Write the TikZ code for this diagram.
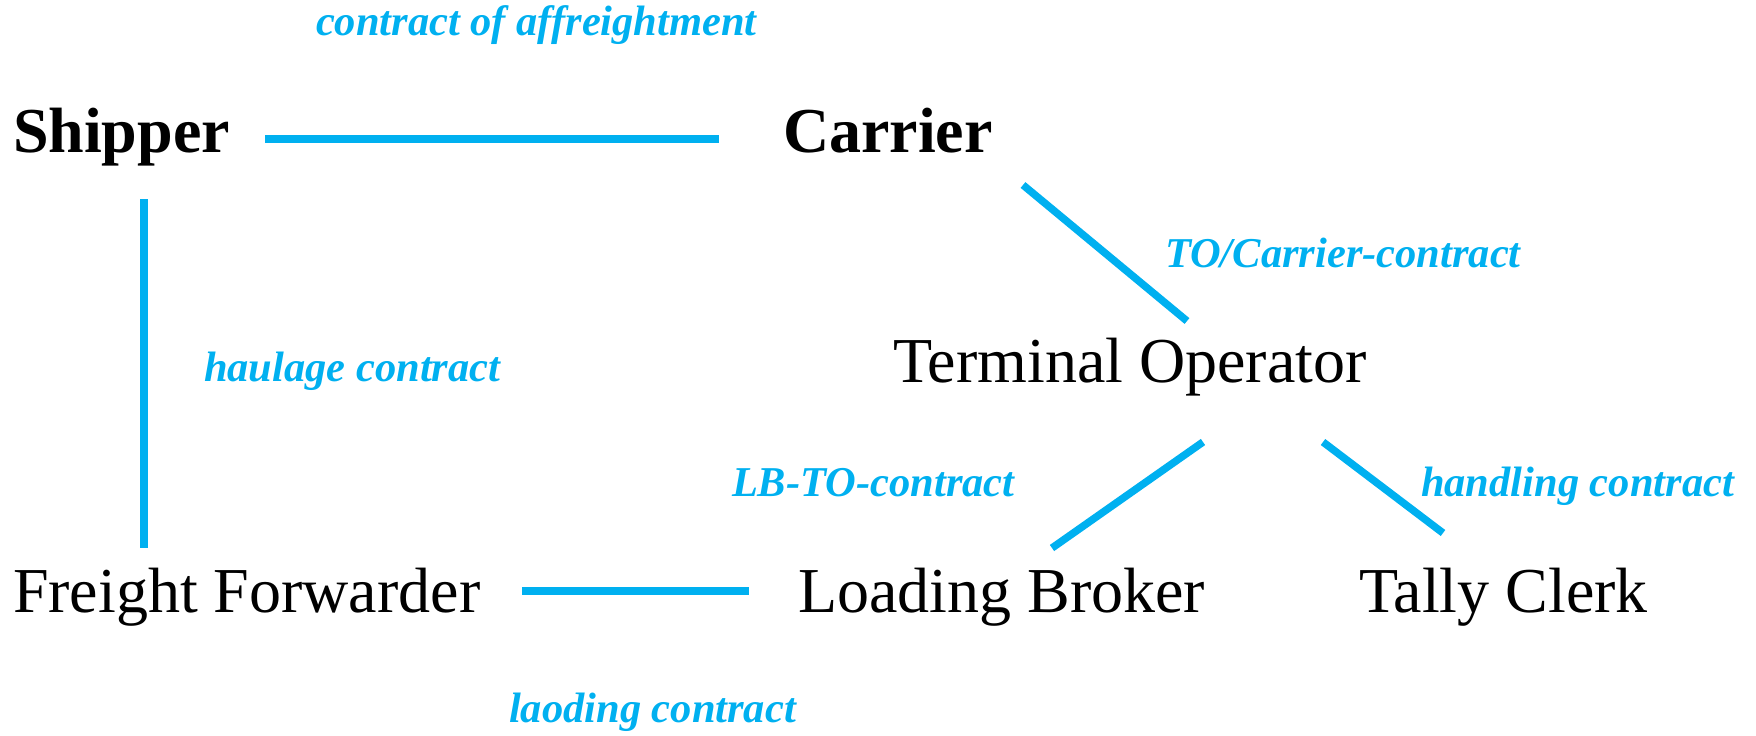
\documentclass[tikz,border=0pt]{standalone}
\usepackage{fontspec}
\setmainfont{Liberation Serif}
\definecolor{contractblue}{RGB}{0,176,240}
\tikzset{
  party/.style={anchor=base west, inner sep=0pt, outer sep=0pt, font=\fontsize{32}{38}\selectfont},
  lead/.style={anchor=base west, inner sep=0pt, outer sep=0pt, font=\fontsize{32}{38}\selectfont\bfseries},
  deal/.style={anchor=base west, inner sep=0pt, outer sep=0pt, text=contractblue,
    font=\fontsize{21.25}{25}\selectfont\bfseries\itshape},
  link/.style={draw=contractblue, line width=3.75pt, line cap=butt}
}
\begin{document}
\begin{tikzpicture}[x=0.5pt,y=-0.5pt]
  \useasboundingbox (0,0) rectangle (1756,735);

  % parties
  \node[lead]  (shipper)   at (13,152)   {Shipper};
  \node[lead]  (carrier)   at (783,152)  {Carrier};
  \node[party] (terminal)  at (893,382)  {Terminal Operator};
  \node[party] (forwarder) at (13,612)   {Freight Forwarder};
  \node[party] (broker)    at (798,612)  {Loading Broker};
  \node[party] (clerk)     at (1359,612) {Tally Clerk};

  % contract labels
  \node[deal] (affr)     at (316,35)   {contract of affreightment};
  \node[deal] (tocarr)   at (1165,267) {TO/Carrier-contract};
  \node[deal] (haulage)  at (204,381)  {haulage contract};
  \node[deal] (lbto)     at (732,496)  {LB-TO-contract};
  \node[deal] (handling) at (1421,496) {handling contract};
  \node[deal] (laoding)  at (509,722)  {laoding contract};

  % connector end points
  \coordinate (sc1) at (265,139);  \coordinate (sc2) at (719,139);
  \coordinate (sf1) at (144,199);  \coordinate (sf2) at (144,548);
  \coordinate (ct1) at (1023,185); \coordinate (ct2) at (1187,321);
  \coordinate (tb1) at (1203,442); \coordinate (tb2) at (1052,548);
  \coordinate (tt1) at (1323,442); \coordinate (tt2) at (1443,533);
  \coordinate (fb1) at (522,591);  \coordinate (fb2) at (749,591);

  % contracts between parties
  \draw[link] (sc1) -- (sc2);
  \draw[link] (sf1) -- (sf2);
  \draw[link] (ct1) -- (ct2);
  \draw[link] (tb1) -- (tb2);
  \draw[link] (tt1) -- (tt2);
  \draw[link] (fb1) -- (fb2);
\end{tikzpicture}
\end{document}
